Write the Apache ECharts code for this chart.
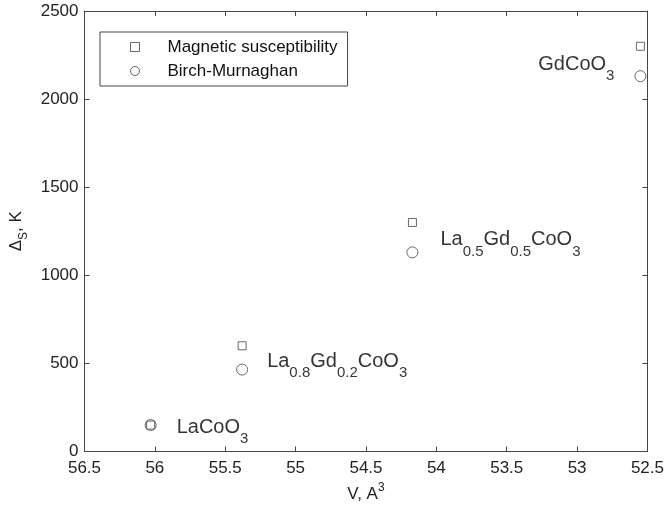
<!DOCTYPE html>
<html>
<head>
<meta charset="utf-8">
<script src="https://cdn.jsdelivr.net/npm/echarts@6/dist/echarts.min.js"></script>
<style>
  html, body { margin: 0; padding: 0; background: #fff; }
  #main { width: 667px; height: 508px; }
</style>
</head>
<body>
<div id="main"></div>
<script>
// data
var volumes = [56.03, 55.38, 54.17, 52.55];
var magSus = [150, 600, 1300, 2300];
var birchMur = [150, 465, 1130, 2130];
var compounds = [
  '{a|LaCoO}{s|3}',
  '{a|La}{s|0.8}{a|Gd}{s|0.2}{a|CoO}{s|3}',
  '{a|La}{s|0.5}{a|Gd}{s|0.5}{a|CoO}{s|3}',
  '{a|GdCoO}{s|3}'
];
var xTicks = [52.5, 56.5, 0.5];
var yTicks = [0, 2500, 500];

// label placement next to the circles
var labelPos = ['right', 'right', 'right', 'left'];
var labelOff = [[0, 7], [-1, -4], [2, -8], [0, -7]];

var fontName = 'Liberation Sans';
var axisColor = '#444';

var richStyle = {
  a: { fontSize: 20, lineHeight: 24, verticalAlign: 'top', color: '#000', fontFamily: fontName },
  s: { fontSize: 15, lineHeight: 29, verticalAlign: 'bottom', color: '#000', fontFamily: fontName }
};

var circleData = volumes.map(function (v, i) {
  return {
    value: [v, birchMur[i]],
    label: {
      show: true,
      position: labelPos[i],
      distance: 20,
      offset: labelOff[i],
      fontFamily: fontName,
      fontSize: 20,
      formatter: compounds[i],
      rich: richStyle
    }
  };
});
var squareData = volumes.map(function (v, i) { return [v, magSus[i]]; });

function xAx(pos, showLabel) {
  return {
    type: 'value', position: pos, inverse: true,
    min: xTicks[0], max: xTicks[1], interval: xTicks[2],
    name: showLabel ? 'V, A{sup|3}' : '',
    nameLocation: 'middle', nameGap: 30,
    nameTextStyle: {
      fontSize: 17, color: '#222', fontFamily: fontName,
      rich: { sup: { fontSize: 12, verticalAlign: 'top', lineHeight: 26, color: '#222', fontFamily: fontName } }
    },
    axisLine: { show: true, onZero: false, lineStyle: { color: axisColor, width: 1 } },
    axisTick: { show: true, inside: true, length: 5, lineStyle: { color: axisColor } },
    axisLabel: { show: showLabel, fontSize: 17, color: '#222', margin: 8, fontFamily: fontName },
    splitLine: { show: false }
  };
}
function yAx(pos, showLabel) {
  return {
    type: 'value', position: pos,
    min: yTicks[0], max: yTicks[1], interval: yTicks[2],
    name: showLabel ? 'Δ{sub|S}, K' : '',
    nameLocation: 'middle', nameGap: 55, nameRotate: 90,
    nameTextStyle: {
      fontSize: 17, color: '#222', fontFamily: fontName,
      rich: { sub: { fontSize: 12, verticalAlign: 'bottom', lineHeight: 26, color: '#222', fontFamily: fontName } }
    },
    axisLine: { show: true, onZero: false, lineStyle: { color: axisColor, width: 1 } },
    axisTick: { show: true, inside: true, length: 5, lineStyle: { color: axisColor } },
    axisLabel: {
      show: showLabel, fontSize: 17, color: '#222', margin: 6, fontFamily: fontName,
      formatter: function (v) { return String(v); }
    },
    splitLine: { show: false }
  };
}

var myChart = echarts.init(document.getElementById('main'));
var option = {
  backgroundColor: '#fff',
  animation: false,
  textStyle: { fontFamily: fontName },
  grid: { left: 84, right: 19, top: 11, bottom: 53 },
  xAxis: [xAx('bottom', true), xAx('top', false)],
  yAxis: [yAx('left', true), yAx('right', false)],
  legend: {
    left: 100, top: 32,
    orient: 'vertical',
    backgroundColor: '#fff',
    borderColor: axisColor, borderWidth: 1, borderRadius: 0,
    padding: [5, 10, 5, 30],
    itemGap: 4,
    itemWidth: 9, itemHeight: 9,
    itemStyle: { color: '#fff', borderColor: axisColor, borderWidth: 1 },
    textStyle: { fontSize: 17, color: '#111', fontFamily: fontName, lineHeight: 20, padding: [0, 0, 0, 23] },
    data: [
      { name: 'Magnetic susceptibility', icon: 'rect' },
      { name: 'Birch-Murnaghan', icon: 'circle' }
    ]
  },
  series: [
    {
      name: 'Magnetic susceptibility',
      type: 'scatter',
      symbol: 'rect',
      symbolSize: 8,
      itemStyle: { color: 'transparent', borderColor: axisColor, borderWidth: 1 },
      data: squareData
    },
    {
      name: 'Birch-Murnaghan',
      type: 'scatter',
      symbol: 'circle',
      symbolSize: 11,
      itemStyle: { color: 'transparent', borderColor: axisColor, borderWidth: 1 },
      data: circleData
    }
  ]
};
myChart.setOption(option);
</script>
</body>
</html>
